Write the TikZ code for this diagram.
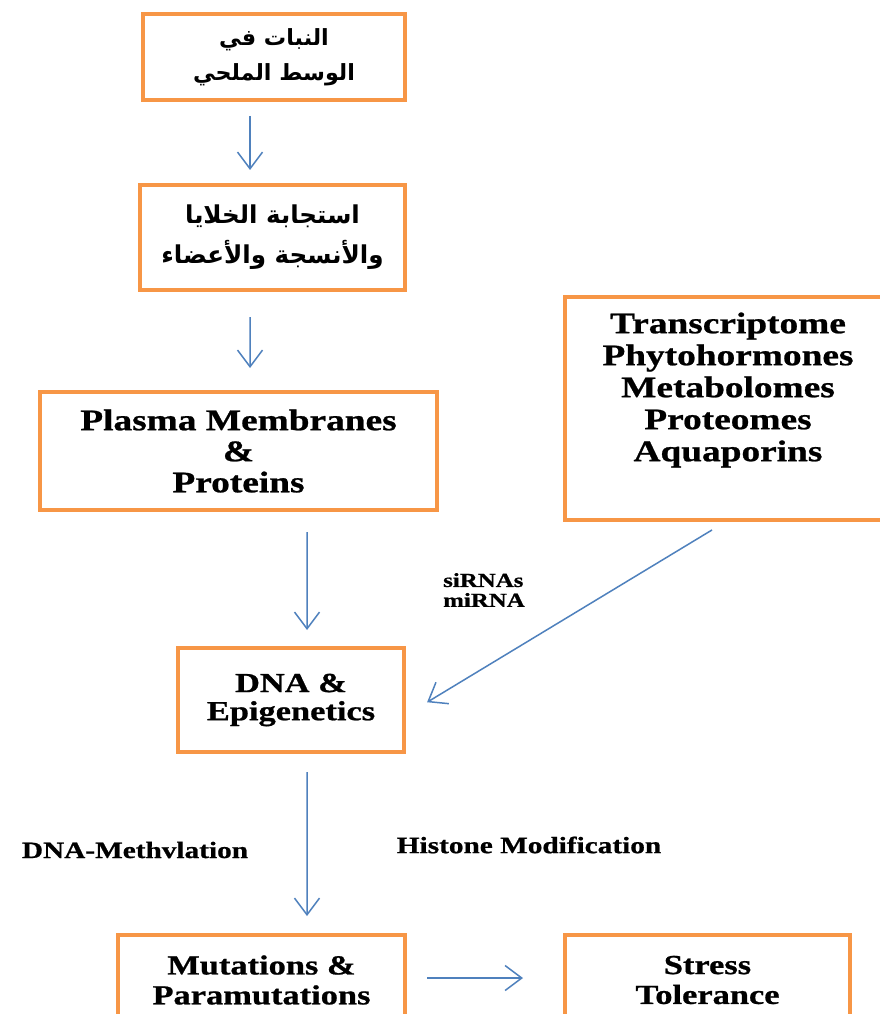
\documentclass[tikz,border=0pt]{standalone}
\usepackage{fontspec}
\setmainfont{Liberation Serif}[FakeStretch=1.25,BoldFeatures={FakeBold=0.8}]
\newfontfamily\arabicfont[Script=Arabic]{DejaVu Sans}
\TeXXeTstate=1
\usetikzlibrary{arrows.meta}
\definecolor{boxorange}{HTML}{F79646}
\definecolor{arrowblue}{HTML}{4F81BD}

\begin{document}
\begin{tikzpicture}[x=0.3mm,y=-0.3mm,
    box/.style={draw=boxorange,line width=1.2mm,fill=white,align=center,inner sep=0pt},
    arr/.style={draw=arrowblue,line width=0.45mm,-{Straight Barb[length=5mm,width=7.5mm]}},
    lbl/.style={font=\bfseries\fontsize{20pt}{22pt}\selectfont}]
    \fill[white] (0,0) rectangle (879,1014);
    \useasboundingbox (0,0) rectangle (879,1014);

    % left column
    \node[box,minimum width=78.6mm,minimum height=25.8mm,font=\arabicfont\bfseries\fontsize{19pt}{30pt}\selectfont] (plant) at (274,57) {\beginR النبات في\endR\\\beginR الوسط الملحي\endR};
    \node[box,minimum width=79.5mm,minimum height=31.5mm,font=\arabicfont\bfseries\fontsize{21pt}{34pt}\selectfont] (response) at (272.5,237.5) {\beginR استجابة الخلايا\endR\\\beginR والأنسجة والأعضاء\endR};
    \node[box,minimum width=119.1mm,minimum height=35.4mm,font=\bfseries\fontsize{25.5pt}{26.5pt}\selectfont] (membranes) at (238.5,451) {Plasma Membranes\\\&\\Proteins};
    \node[box,minimum width=67.8mm,minimum height=31.2mm,font=\bfseries\fontsize{23.5pt}{24pt}\selectfont] (dna) at (291,700) {DNA \&\\Epigenetics};
    \node[box,minimum width=86.1mm,minimum height=27mm,font=\bfseries\fontsize{23.5pt}{25.5pt}\selectfont] (mutations) at (261.5,980) {Mutations \&\\Paramutations};

    % right column
    \node[box,minimum width=97.5mm,minimum height=66.9mm] (omics) at (727.5,408.5) {};
    \node[align=center,font=\bfseries\fontsize{25.5pt}{27.3pt}\selectfont] (omicslist) at (728,390) {Transcriptome\\Phytohormones\\Metabolomes\\Proteomes\\Aquaporins};
    \node[box,minimum width=85.5mm,minimum height=27mm,font=\bfseries\fontsize{23.5pt}{25.5pt}\selectfont] (tolerance) at (707.5,980) {Stress\\Tolerance};

    % labels
    \node[lbl,font=\bfseries\fontsize{17pt}{17pt}\selectfont,align=left] (rna) at (484,590) {siRNAs\\miRNA};
    \node[lbl] (methyl) at (135,850) {DNA-Methvlation};
    \node[lbl] (histone) at (529,845) {Histone Modification};

    % arrows
    \draw[arr,shorten <=4.2mm,shorten >=3.9mm] ([xshift=-7.2mm]plant.south) -- ([xshift=-6.75mm]response.north);
    \draw[arr,shorten <=7.5mm,shorten >=6.6mm] ([xshift=-6.75mm]response.south) -- ([xshift=3.45mm]membranes.north);
    \draw[arr,shorten <=6mm,shorten >=4.8mm] ([xshift=20.55mm]membranes.south) -- ([xshift=4.8mm]dna.north);
    \draw[arr,shorten <=5.4mm,shorten >=5.1mm] ([xshift=4.8mm]dna.south) -- ([xshift=13.65mm]mutations.north);
    \draw[arr,shorten <=6mm,shorten >=12mm] ([yshift=0.6mm]mutations.east) -- ([yshift=0.6mm]tolerance.west);
    \draw[arr,shorten <=4.6mm,shorten >=7.4mm] ([xshift=-0.7mm]omics.south) -- ([yshift=-4.5mm]dna.east);
\end{tikzpicture}
\end{document}
